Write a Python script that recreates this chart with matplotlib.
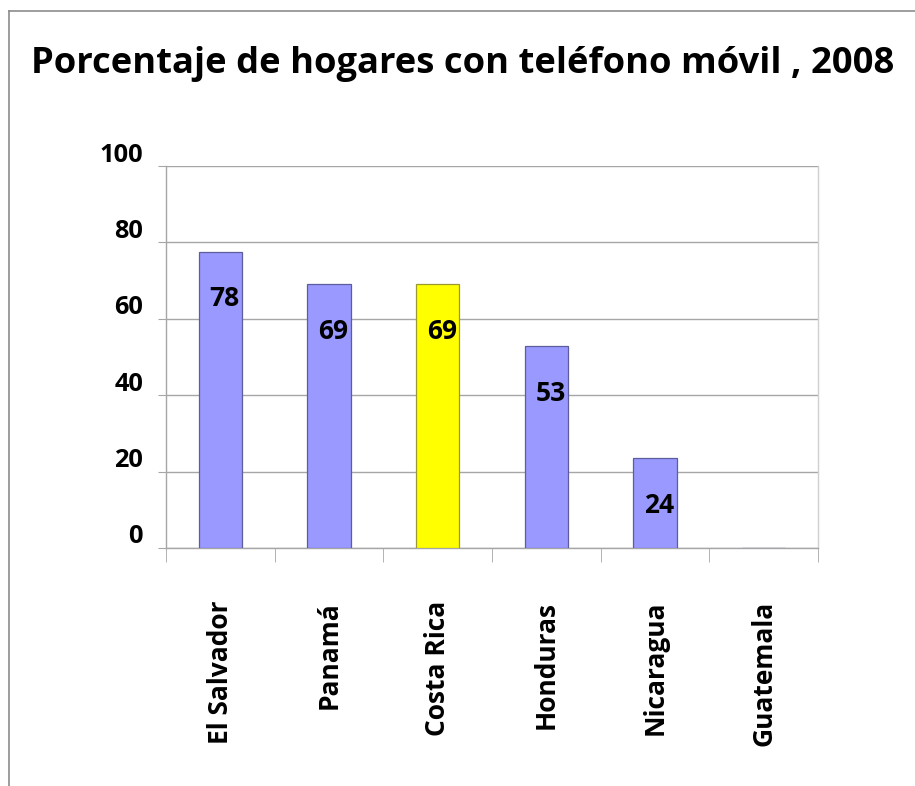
"""Bar chart: porcentaje de hogares con teléfono móvil, 2008 (Centroamérica)."""

import matplotlib
matplotlib.use("Agg")
import matplotlib.pyplot as plt
import numpy as np
from matplotlib.lines import Line2D
from matplotlib.transforms import ScaledTranslation

COUNTRIES = ["El Salvador", "Panamá", "Costa Rica", "Honduras", "Nicaragua", "Guatemala"]
VALUES = [77.6, 69.1, 69.0, 52.9, 23.6, np.nan]   # Guatemala: sin dato
HIGHLIGHT = "Costa Rica"
YTICKS = [0, 20, 40, 60, 80, 100]

TITLE = "Porcentaje de hogares con teléfono móvil , 2008"

BAR = "#9999FF"
BAR_EDGE = "#5c5c9e"
HL = "#FFFF00"
HL_EDGE = "#9a9a30"
GRID = "#a6a6a6"

plt.rcParams["font.family"] = ["Open Sans", "DejaVu Sans"]
plt.rcParams["font.weight"] = "bold"


def main():
    fig = plt.figure(figsize=(9.15, 7.86), dpi=100)
    ax = fig.add_axes([0.1814, 0.3028, 0.7126, 0.486])

    x = np.arange(len(COUNTRIES))
    colors = [HL if c == HIGHLIGHT else BAR for c in COUNTRIES]
    edges = [HL_EDGE if c == HIGHLIGHT else BAR_EDGE for c in COUNTRIES]
    vals = np.nan_to_num(np.array(VALUES, dtype=float))
    ax.bar(x, vals, width=0.4, color=colors, edgecolor=edges, linewidth=0.9, zorder=3)

    for xi, v in zip(x, VALUES):
        if np.isnan(v):
            continue
        ax.annotate(f"{v:.0f}", (xi, v), textcoords="offset points",
                    xytext=(3, -34), ha="center", va="center",
                    fontsize=19, fontweight="bold", zorder=4)

    ax.set_xlim(-0.5, len(COUNTRIES) - 0.5)
    ax.set_ylim(0, 100)
    ax.set_yticks(YTICKS)
    ax.set_yticklabels([str(t) for t in YTICKS], fontsize=18.3, fontweight="bold")
    ax.yaxis.grid(True, color=GRID, linewidth=1, zorder=0)
    ax.tick_params(axis="y", length=6, color=GRID, pad=10.5)

    offset = ScaledTranslation(0, 0.14, fig.dpi_scale_trans)
    for lab in ax.get_yticklabels():
        lab.set_transform(lab.get_transform() + offset)

    ax.set_xticks(x)
    ax.set_xticklabels(COUNTRIES, rotation=90, fontsize=19, fontweight="bold")
    ax.tick_params(axis="x", length=0, pad=38)
    ax.set_xticks(np.arange(-0.5, len(COUNTRIES)), minor=True)
    ax.tick_params(axis="x", which="minor", length=10, color=GRID)

    ax.spines["top"].set_visible(False)
    for s in ("left", "bottom", "right"):
        ax.spines[s].set_color(GRID)
        ax.spines[s].set_linewidth(1)
    ax.spines["right"].set_color("#d0d0d0")

    fig.text(0.506, 0.919, TITLE, ha="center", va="center",
             fontsize=26.2, fontweight="bold")

    # chart frame (top and left edges only are visible)
    fig.add_artist(Line2D([9 / 915, 9 / 915], [0, 1 - 11 / 786],
                          transform=fig.transFigure, color="#8c8c8c", lw=1.2))
    fig.add_artist(Line2D([9 / 915, 1], [1 - 11 / 786, 1 - 11 / 786],
                          transform=fig.transFigure, color="#8c8c8c", lw=1.2))

    fig.savefig("out.png", dpi=100, facecolor="white")
    plt.close(fig)


if __name__ == "__main__":
    main()
